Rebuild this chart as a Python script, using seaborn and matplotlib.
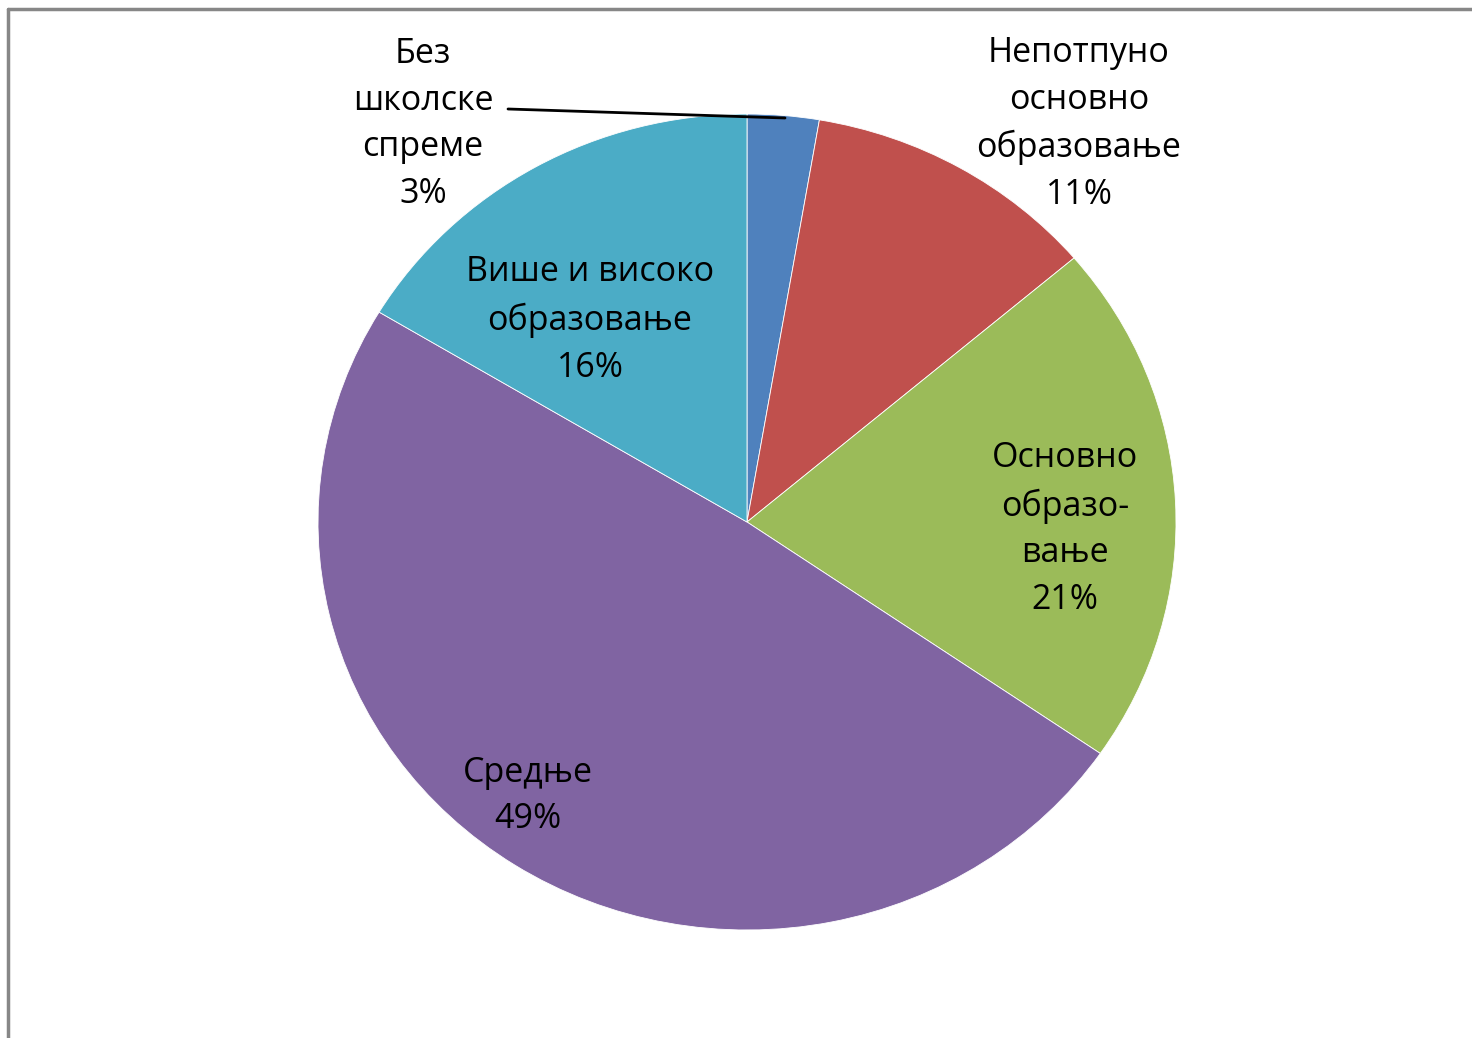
import matplotlib
matplotlib.use("Agg")
import matplotlib.pyplot as plt
import seaborn as sns
from matplotlib.lines import Line2D

# ── Data ───────────────────────────────────────────────────────────────────────
categories = [
    "Без\nшколске\nспреме",
    "Непотпуно\nосновно\nобразовање",
    "Основно\nобразо-\nвање",
    "Средње",
    "Више и високо\nобразовање",
]
shares = [2.7, 11.1, 20.8, 49.0, 16.4]
colors = ["#4F81BD", "#C0504D", "#9BBB59", "#8064A2", "#4BACC6"]

sns.set_theme(style="white")
plt.rcParams["font.family"] = ["Open Sans", "DejaVu Sans"]

W, H = 1472, 1038
CX, CY, RX, RY = 747, 522, 429, 408

fig = plt.figure(figsize=(W / 100, H / 100), dpi=100)
ax = fig.add_axes([0, 0, 1, 1])

wedges, _ = ax.pie(
    shares,
    colors=colors,
    startangle=90,
    counterclock=False,
    radius=1.0,
    wedgeprops={"linewidth": 0.6, "edgecolor": "white"},
)

# pixel -> data mapping (ellipse: pie is slightly wider than tall)
ax.set_aspect("auto")
ax.set_xlim(-CX / RX, (W - CX) / RX)
ax.set_ylim(-(H - CY) / RY, CY / RY)
ax.axis("off")


def px(x, y):
    return (x - CX) / RX, (CY - y) / RY


# label centres in pixel coordinates
label_pos = [(423, 124), (1079, 124), (1065, 529), (528, 796), (590, 320)]
for name, val, (lx, ly) in zip(categories, shares, label_pos):
    ax.text(*px(lx, ly), f"{name}\n{val:.0f}%", ha="center", va="center",
            multialignment="center", fontsize=24.5, linespacing=1.49,
            color="black")

# leader line for the smallest slice
(x0, y0), (x1, y1) = px(508, 109), px(785, 118)
ax.plot([x0, x1], [y0, y1], color="black", lw=2)

# chart area frame (cut off at right and bottom)
fig.add_artist(Line2D([8 / W, 1.02], [1 - 9 / H, 1 - 9 / H],
                      transform=fig.transFigure, color="#878787", lw=2.5))
fig.add_artist(Line2D([8 / W, 8 / W], [1 - 9 / H, -0.02],
                      transform=fig.transFigure, color="#878787", lw=2.5))

fig.savefig("out.png", dpi=100)
plt.close(fig)
